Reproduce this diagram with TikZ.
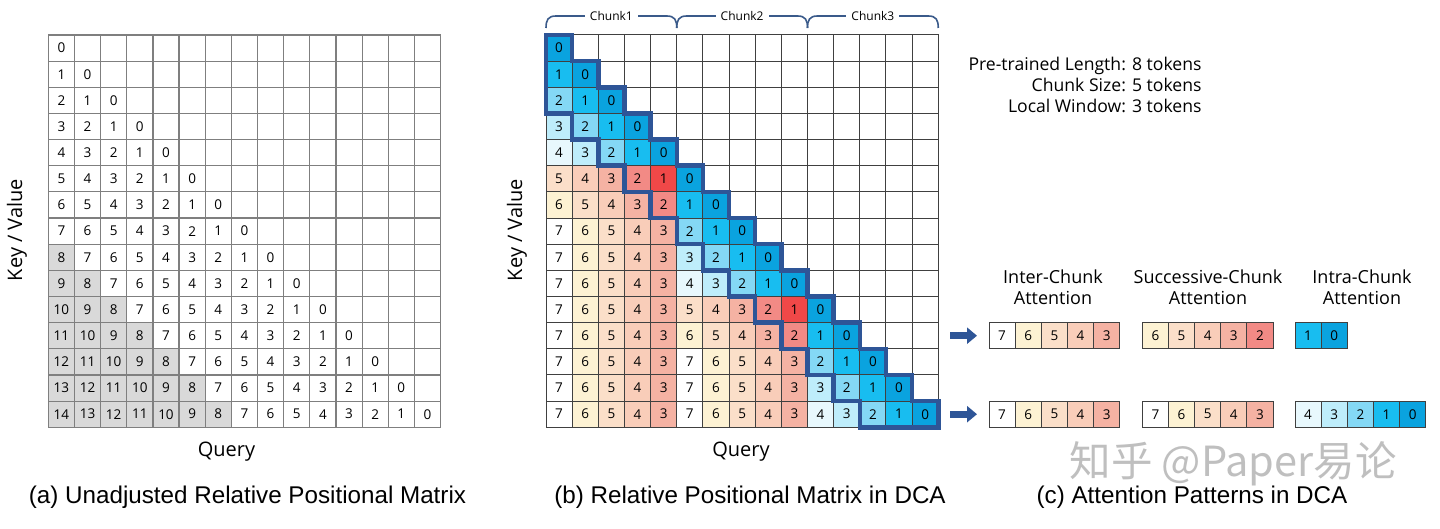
\documentclass[tikz,border=0pt]{standalone}
\usepackage{fontspec}
\setmainfont{Open Sans}
\newfontfamily\capfont{Liberation Sans}
\newfontfamily\cjkfont{Noto Sans CJK SC}
\usetikzlibrary{arrows.meta,calc}
\definecolor{gridA}{HTML}{7F7F7F}
\definecolor{gridB}{HTML}{404040}
\definecolor{grayA}{HTML}{D9D9D9}
\definecolor{bl0}{HTML}{0AA3DF}
\definecolor{bl1}{HTML}{18BDF0}
\definecolor{bl2}{HTML}{84D8F5}
\definecolor{bl3}{HTML}{BEEDFB}
\definecolor{bl4}{HTML}{E8F8FD}
\definecolor{rd1}{HTML}{F04848}
\definecolor{rd2}{HTML}{F28A85}
\definecolor{rd3}{HTML}{F5B2A3}
\definecolor{rd4}{HTML}{F9CDB9}
\definecolor{rd5}{HTML}{FBDFC9}
\definecolor{rd6}{HTML}{FDF2D3}
\definecolor{rd7}{HTML}{FFFFFF}
\definecolor{winblue}{HTML}{2E5597}
\definecolor{braceblue}{HTML}{3A5A8A}
\tikzset{
  acell/.style={draw=gridA, line width=1.2pt, minimum width=26.15pt, minimum height=26.15pt, inner sep=0pt, font=\fontsize{13.5}{14}\selectfont},
  bcell/.style={draw=gridB, line width=1pt, minimum width=26.15pt, minimum height=26.15pt, inner sep=0pt, font=\fontsize{13.5}{14}\selectfont},
  axislabel/.style={font=\fontsize{20}{24}\selectfont},
  caption/.style={font=\capfont\fontsize{24.2}{28}\selectfont},
  header/.style={align=center, font=\fontsize{18}{21}\selectfont},
  chunklabel/.style={fill=white, inner sep=5pt, font=\fontsize{12}{13}\selectfont},
  brace/.style={draw=braceblue, line width=1.6pt},
  window/.style={draw=winblue, line width=4.5pt, line join=miter},
  blockarrow/.style={draw=winblue, line width=7.3pt, -{Triangle[length=10pt,width=16pt]}}
}
\begin{document}
\begin{tikzpicture}[x=1pt,y=-1pt]
\useasboundingbox (0,0) rectangle (1440,529);

% ---------- (a) matrix ----------
\foreach \i in {0,...,14}{
  \foreach \j in {0,...,14}{
    \pgfmathsetmacro{\xx}{48.3+(\j+0.5)*26.15}
    \pgfmathsetmacro{\yy}{35+(\i+0.5)*26.15}
    \ifnum\j>\i
      \node[acell] (a-\i-\j) at (\xx,\yy) {};
    \else
      \pgfmathtruncatemacro{\v}{\i-\j}
      \ifnum\v>7
        \node[acell, fill=grayA] (a-\i-\j) at (\xx,\yy) {\v};
      \else
        \node[acell] (a-\i-\j) at (\xx,\yy) {\v};
      \fi
    \fi
  }
}
\node[axislabel, rotate=90] (akv) at (17,230) {Key / Value};
\node[axislabel] (aq) at (226.5,452) {Query};
\node[caption] (acap) at (247.5,497) {(a) Unadjusted Relative Positional Matrix};

% ---------- (b) matrix ----------
\foreach \i in {0,...,14}{
  \foreach \j in {0,...,14}{
    \pgfmathsetmacro{\xx}{546+(\j+0.5)*26.15}
    \pgfmathsetmacro{\yy}{35+(\i+0.5)*26.15}
    \pgfmathtruncatemacro{\ci}{floor(\i/5)}
    \pgfmathtruncatemacro{\cj}{floor(\j/5)}
    \pgfmathtruncatemacro{\il}{mod(\i,5)}
    \pgfmathtruncatemacro{\jl}{mod(\j,5)}
    \pgfmathtruncatemacro{\cjn}{\cj+1}
    \ifnum\j>\i
      \node[bcell] (b-\i-\j) at (\xx,\yy) {};
    \else
      \ifnum\ci=\cj
        \pgfmathtruncatemacro{\v}{\i-\j}
        \def\col{bl\v}
      \else
        \ifnum\ci=\cjn
          \pgfmathtruncatemacro{\v}{min(\il+5,7)-\jl}
        \else
          \pgfmathtruncatemacro{\v}{7-\jl}
        \fi
        \def\col{rd\v}
      \fi
      \node[bcell, fill=\col] (b-\i-\j) at (\xx,\yy) {\v};
    \fi
  }
}
% local window outline
\begin{scope}[shift={(546,35)}, x=26.15pt, y=-26.15pt]
  \draw[window] (0,0) \foreach \k in {1,...,15}{ -| (\k,\k) } -- (12,15)
     \foreach \k in {11,...,0}{ |- (\k,{\k+3}) } -- cycle;
\end{scope}
% chunk braces
\coordinate (c0) at (546,28);
\coordinate (c1) at (676.75,28);
\coordinate (c2) at (807.5,28);
\coordinate (c3) at (938.25,28);
\foreach \a/\b/\n in {c0/c1/1, c1/c2/2, c2/c3/3}{
  \draw[brace] (\a) .. controls ([yshift=8pt]\a) and ([xshift=2pt,yshift=12pt]\a) .. ([xshift=10pt,yshift=12pt]\a)
     -- ([xshift=-10pt,yshift=12pt]\b) .. controls ([xshift=-2pt,yshift=12pt]\b) and ([yshift=8pt]\b) .. (\b);
  \node[chunklabel] (chunk\n) at ($(\a)!0.5!(\b)+(0,-12)$) {Chunk\n};
}
\node[axislabel, rotate=90] (bkv) at (517,230) {Key / Value};
\node[axislabel] (bq) at (741,452) {Query};
\node[caption] (bcap) at (750,497) {(b) Relative Positional Matrix in DCA};

% ---------- settings text ----------
\node[anchor=east, align=right, font=\fontsize{17.6}{21}\selectfont] (settings) at (1205,85)
  {Pre-trained Length: 8 tokens\\Chunk Size: 5 tokens\\Local Window: 3 tokens};

% ---------- (c) patterns ----------
\node[header] (h1) at (1053,287.5) {Inter-Chunk\\Attention};
\node[header] (h2) at (1208,287.5) {Successive-Chunk\\Attention};
\node[header] (h3) at (1362,287.5) {Intra-Chunk\\Attention};

\coordinate (s1) at (950,335.7);
\coordinate (e1) at (977,335.7);
\coordinate (s2) at (950,414.2);
\coordinate (e2) at (977,414.2);
\draw[blockarrow] (s1) -- (e1);
\draw[blockarrow] (s2) -- (e2);

\foreach \v [count=\k from 0] in {7,6,5,4,3}{
  \node[bcell, fill=rd\v] (p1-\k) at ({989+(\k+0.5)*26.15},335.7) {\v};
  \node[bcell, fill=rd\v] (p2-\k) at ({989+(\k+0.5)*26.15},414.2) {\v};
}
\foreach \v [count=\k from 0] in {6,5,4,3,2}{
  \node[bcell, fill=rd\v] (q1-\k) at ({1142.3+(\k+0.5)*26.15},335.7) {\v};
}
\foreach \v [count=\k from 0] in {7,6,5,4,3}{
  \node[bcell, fill=rd\v] (q2-\k) at ({1142.3+(\k+0.5)*26.15},414.2) {\v};
}
\foreach \v [count=\k from 0] in {1,0}{
  \node[bcell, fill=bl\v] (r1-\k) at ({1295+(\k+0.5)*26.15},335.7) {\v};
}
\foreach \v [count=\k from 0] in {4,3,2,1,0}{
  \node[bcell, fill=bl\v] (r2-\k) at ({1295+(\k+0.5)*26.15},414.2) {\v};
}
\node[font=\cjkfont\fontsize{41.5}{44}\selectfont, text=black!25] (wm) at (1233,464) {知乎 @Paper易论};
\node[caption] (ccap) at (1192,497) {(c) Attention Patterns in DCA};
\end{tikzpicture}
\end{document}
